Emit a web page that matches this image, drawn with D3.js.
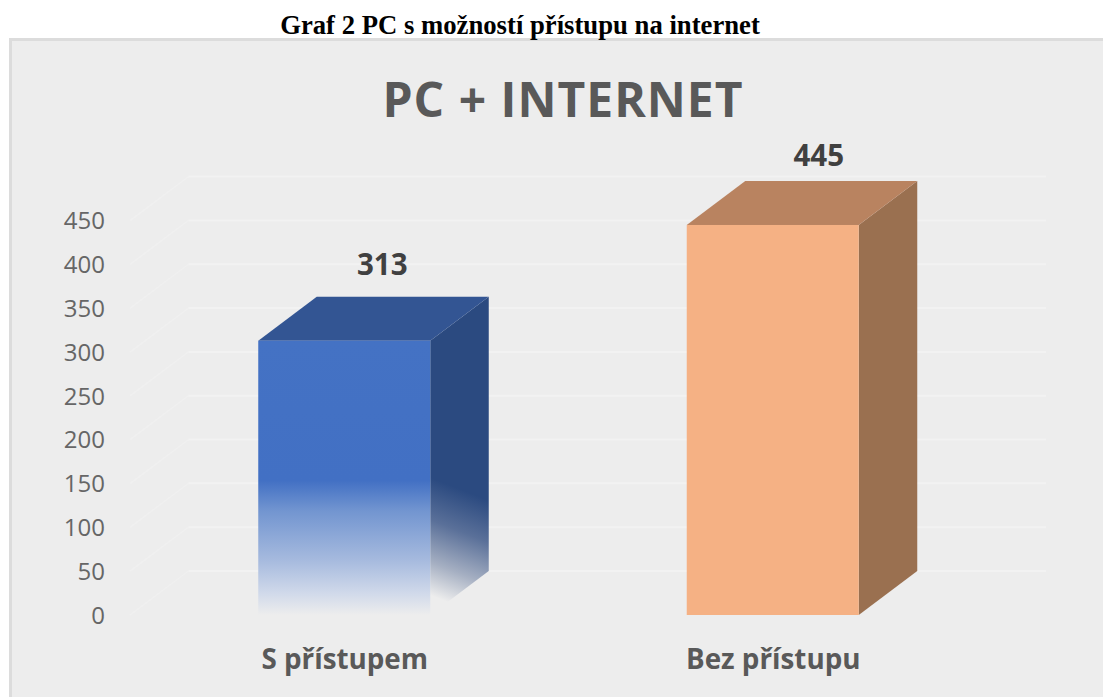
<!DOCTYPE html>
<html><head><meta charset="utf-8">
<script src="https://cdn.jsdelivr.net/npm/d3@7"></script>
<style>html,body{margin:0;padding:0;background:#fff}svg{display:block}</style>
</head><body><svg id="c" width="1103" height="697"></svg>
<script>
const pageTitle = "Graf 2 PC s možností přístupu na internet";
const chartTitle = "PC + INTERNET";
const categories = ["S přístupem", "Bez přístupu"];
const values = [313, 445];
const tickValues = [0, 50, 100, 150, 200, 250, 300, 350, 400, 450];

const svg = d3.select("#c");
const depthX = 58.5, depthY = 44;
const y = d3.scaleLinear().domain([0, 450]).range([615, 220.6]);
const x = d3.scaleBand().domain(categories).range([130, 987]).paddingInner(0).paddingOuter(0);
const barW = 172;
const barX = d => x(d) + (x.bandwidth() - barW) / 2;

const defs = svg.append("defs");
const g1 = defs.append("linearGradient").attr("id", "gFront").attr("x1",0).attr("y1",0).attr("x2",0).attr("y2",1);
[[0,"#4472c4"],[0.51,"#4270c4"],[0.62,"#7295d0"],[0.8,"#a6bade"],[0.92,"#d0d9ea"],[1,"#ededed"]]
 .forEach(s=>g1.append("stop").attr("offset",s[0]).attr("stop-color",s[1]));
const g2 = defs.append("linearGradient").attr("id", "gSide").attr("gradientUnits","userSpaceOnUse")
  .attr("x1",489).attr("y1",450).attr("x2",432).attr("y2",596);
[[0,"#2b4a80"],[0.3,"#2b4a80"],[0.55,"#5a7099"],[0.8,"#a5afc2"],[1,"#ededed"]]
 .forEach(s=>g2.append("stop").attr("offset",s[0]).attr("stop-color",s[1]));

svg.append("rect").attr("x",10.5).attr("y",39.5).attr("width",1100).attr("height",670)
  .attr("fill","#ededed").attr("stroke","#dcdcdc").attr("stroke-width",3);

svg.append("text").attr("x",520).attr("y",34).attr("text-anchor","middle")
  .attr("font-family","'Liberation Serif'").attr("font-weight","bold").attr("font-size",26.7).attr("fill","#000").text(pageTitle);

svg.append("text").attr("x",563).attr("y",117).attr("text-anchor","middle")
  .attr("font-family","'Open Sans'").attr("font-weight","bold").attr("font-size",48).attr("letter-spacing",1).attr("fill","#595959").text(chartTitle);

const grid = svg.append("g").attr("fill","none");
tickValues.forEach(t=>{
  grid.append("path").attr("stroke","#f0f0f0").attr("stroke-width",1.5)
    .attr("d", d3.line()([[130,y(t)],[130+depthX,y(t)-depthY]]));
  grid.append("path").attr("stroke","#f2f2f2").attr("stroke-width",2)
    .attr("d", d3.line()([[130+depthX,y(t)-depthY],[1046,y(t)-depthY]]));
});

const tickG = svg.append("g").attr("transform","translate(105,0)").call(d3.axisLeft(y).tickValues(tickValues).tickSize(0).tickPadding(0));
tickG.select(".domain").remove();
tickG.selectAll("text").attr("font-family","'Open Sans'").attr("font-size",24).attr("fill","#666").attr("dy","0.34em");

const front = ["url(#gFront)","#f5b184"], top_ = ["#335593","#b98360"], side = ["url(#gSide)","#9a7050"];
const labelDx = [124, 132], labelDy = [66, 59];
categories.forEach((c,i)=>{
  const x0 = barX(c), x1 = x0 + barW, yT = y(values[i]), yB = y(0);
  const g = svg.append("g");
  g.append("path").attr("fill",side[i]).attr("d", d3.line()([[x1,yT],[x1+depthX,yT-depthY],[x1+depthX,yB-depthY],[x1,yB]])+"Z");
  g.append("path").attr("fill",top_[i]).attr("d", d3.line()([[x0,yT],[x0+depthX,yT-depthY],[x1+depthX,yT-depthY],[x1,yT]])+"Z");
  g.append("rect").attr("x",x0).attr("y",yT).attr("width",barW).attr("height",yB-yT).attr("fill",front[i]);
  svg.append("text").attr("x",x0+labelDx[i]).attr("y",yT-labelDy[i]).attr("text-anchor","middle")
    .attr("font-family","'Open Sans'").attr("font-weight","bold").attr("font-size",29.5).attr("fill","#404040").text(values[i]);
  svg.append("text").attr("x",x0+86.5).attr("y",669).attr("text-anchor","middle")
    .attr("font-family","'Open Sans'").attr("font-weight","bold").attr("font-size",27.8).attr("fill","#595959").text(c);
});
</script></body></html>
